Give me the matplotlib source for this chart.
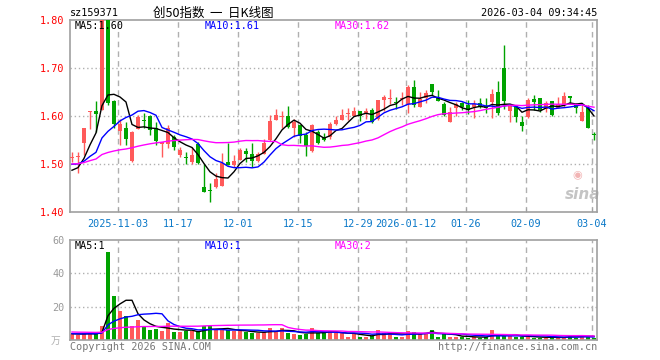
import matplotlib
matplotlib.use("Agg")  # headless rendering
import matplotlib.pyplot as plt
import numpy as np
import pandas as pd

W, H = 660, 360

# ------------------------------------------------------------------
# data (prices in CNY, volume in 万手)
# ------------------------------------------------------------------
date_idx = [8, 18, 28, 38, 48, 56, 66, 76, 87]
date_labels = ["2025-11-03", "11-17", "12-01", "12-15", "12-29",
               "2026-01-12", "01-26", "02-09", "03-04"]

opens = [1.513, 1.514, 1.543, 1.609, 1.611, 1.612, 1.805, 1.631, 1.569, 1.576,
         1.506, 1.573, 1.591, 1.599, 1.574, 1.542, 1.542, 1.556, 1.519, 1.515,
         1.505, 1.542, 1.453, 1.444, 1.453, 1.454, 1.505, 1.497, 1.508, 1.527,
         1.521, 1.507, 1.521, 1.549, 1.592, 1.597, 1.600, 1.576, 1.581, 1.560,
         1.528, 1.567, 1.557, 1.556, 1.583, 1.592, 1.604, 1.599, 1.611, 1.604,
         1.612, 1.593, 1.633, 1.635, 1.630, 1.636, 1.626, 1.661, 1.619, 1.637,
         1.667, 1.637, 1.625, 1.588, 1.617, 1.628, 1.623, 1.618, 1.628, 1.621,
         1.630, 1.649, 1.699, 1.611, 1.618, 1.588, 1.597, 1.635, 1.637, 1.614,
         1.631, 1.616, 1.626, 1.642, 1.622, 1.590, 1.617, 1.561]
highs = [1.524, 1.526, 1.576, 1.611, 1.631, 1.800, 1.830, 1.633, 1.593, 1.588,
         1.568, 1.603, 1.607, 1.603, 1.587, 1.545, 1.581, 1.560, 1.536, 1.526,
         1.536, 1.545, 1.500, 1.460, 1.482, 1.522, 1.543, 1.519, 1.533, 1.534,
         1.543, 1.524, 1.553, 1.603, 1.615, 1.611, 1.621, 1.593, 1.582, 1.567,
         1.583, 1.571, 1.564, 1.588, 1.599, 1.614, 1.616, 1.619, 1.611, 1.616,
         1.616, 1.633, 1.644, 1.656, 1.640, 1.651, 1.665, 1.676, 1.651, 1.654,
         1.667, 1.654, 1.630, 1.619, 1.630, 1.630, 1.633, 1.633, 1.637, 1.637,
         1.656, 1.673, 1.748, 1.626, 1.623, 1.599, 1.637, 1.644, 1.637, 1.631,
         1.631, 1.640, 1.651, 1.642, 1.628, 1.623, 1.623, 1.567]
lows = [1.505, 1.482, 1.519, 1.573, 1.567, 1.612, 1.623, 1.576, 1.540, 1.540,
        1.505, 1.572, 1.574, 1.560, 1.540, 1.515, 1.533, 1.530, 1.515, 1.500,
        1.501, 1.500, 1.442, 1.421, 1.451, 1.454, 1.497, 1.494, 1.508, 1.505,
        1.494, 1.505, 1.521, 1.547, 1.592, 1.574, 1.574, 1.557, 1.543, 1.517,
        1.526, 1.542, 1.547, 1.553, 1.581, 1.592, 1.592, 1.599, 1.590, 1.593,
        1.585, 1.592, 1.611, 1.626, 1.614, 1.623, 1.606, 1.619, 1.618, 1.628,
        1.644, 1.631, 1.599, 1.587, 1.599, 1.612, 1.604, 1.595, 1.616, 1.606,
        1.595, 1.602, 1.614, 1.588, 1.588, 1.569, 1.595, 1.612, 1.609, 1.609,
        1.601, 1.616, 1.619, 1.626, 1.606, 1.590, 1.574, 1.551]
closes = [1.515, 1.517, 1.576, 1.611, 1.604, 1.800, 1.628, 1.583, 1.583, 1.552,
          1.566, 1.597, 1.589, 1.571, 1.547, 1.545, 1.576, 1.535, 1.529, 1.513,
          1.519, 1.502, 1.442, 1.443, 1.468, 1.503, 1.498, 1.507, 1.529, 1.521,
          1.507, 1.521, 1.543, 1.590, 1.602, 1.599, 1.578, 1.588, 1.558, 1.537,
          1.581, 1.543, 1.550, 1.583, 1.592, 1.602, 1.606, 1.611, 1.599, 1.611,
          1.588, 1.633, 1.640, 1.637, 1.628, 1.638, 1.661, 1.623, 1.635, 1.647,
          1.649, 1.632, 1.603, 1.609, 1.624, 1.618, 1.613, 1.624, 1.621, 1.616,
          1.646, 1.607, 1.632, 1.623, 1.597, 1.580, 1.633, 1.630, 1.612, 1.628,
          1.602, 1.626, 1.642, 1.638, 1.617, 1.609, 1.576, 1.560]
volumes = [3.6, 2.8, 4.0, 4.4, 3.6, 8.2, 52.6, 26.2, 17.6, 14.6,
           8.2, 12.2, 7.6, 6.2, 6.8, 5.2, 10.0, 4.6, 4.6, 5.2,
           5.2, 5.2, 8.2, 8.2, 6.0, 6.0, 6.2, 5.2, 5.6, 4.6,
           4.0, 4.4, 4.6, 7.4, 5.2, 7.4, 4.0, 3.6, 2.8, 3.4,
           7.4, 4.2, 4.2, 5.2, 4.2, 4.6, 2.0, 4.0, 2.0, 2.0,
           2.4, 6.2, 4.0, 4.0, 2.0, 2.0, 5.6, 5.0, 3.4, 4.0,
           6.2, 2.0, 3.6, 2.0, 2.0, 2.0, 1.4, 2.0, 1.4, 2.0,
           6.2, 2.6, 2.6, 2.6, 2.0, 2.0, 2.0, 1.4, 1.4, 1.4,
           2.0, 1.4, 1.4, 3.2, 1.4, 3.2, 2.0, 1.0]

# sessions before the visible window (estimated from where the MA lines start)
prev_close = [1.50, 1.51, 1.49, 1.50, 1.52, 1.50, 1.49, 1.51, 1.50, 1.49,
              1.50, 1.51, 1.50, 1.49, 1.50, 1.51, 1.50, 1.50, 1.49, 1.50,
              1.51, 1.52, 1.51, 1.52, 1.50, 1.49, 1.48, 1.47, 1.48]
prev_vol = [5.6, 4.8, 6.2, 5.0, 5.4, 4.6, 5.8, 5.2, 4.9, 6.0,
            5.3, 4.7, 5.5, 5.1, 5.9, 4.8, 5.6, 5.0, 5.4, 4.8,
            4.2, 3.6, 3.9, 3.4, 4.0, 3.7, 4.1, 3.6, 4.0]

price_ticks = [1.40, 1.50, 1.60, 1.70, 1.80]
vol_ticks = [20, 40, 60]
ma_windows = [5, 10, 30]
ma_colours = ["black", "#0000ff", "#ff00ff"]
price_ma_text = ["MA5:1.60", "MA10:1.61", "MA30:1.62"]
vol_ma_text = ["MA5:1", "MA10:1", "MA30:2"]

RED = "#ff5a5a"
GREEN = "#00a300"
BORDER = "#a0a0a0"
GRID = "#b0b0b0"
DATE_BLUE = "#0a78c8"
MONO = "DejaVu Sans Mono"
CJK = ["Noto Sans CJK SC", "DejaVu Sans"]
FS = 7.3


def fx(x):
    return x / W


def fy(y):
    return 1 - y / H


n = len(closes)
x = np.arange(n)
o = np.array(opens)
c = np.array(closes)
up = c >= o
colours = np.where(up, RED, GREEN)

close_all = pd.Series(prev_close + closes)
vol_all = pd.Series(prev_vol + volumes)
price_ma = [close_all.rolling(w).mean().iloc[-n:].values for w in ma_windows]
vol_ma = [vol_all.rolling(w).mean().iloc[-n:].values for w in ma_windows]

fig = plt.figure(figsize=(W / 100, H / 100), dpi=100)
fig.patch.set_facecolor("white")

ax = fig.add_axes([fx(70), fy(212), (597 - 70) / W, (212 - 20) / H])
axv = fig.add_axes([fx(70), fy(340), (597 - 70) / W, (340 - 240) / H])

grid_x = [i - 0.33 for i in date_idx]

for a in (ax, axv):
    a.set_xlim(-0.33, n - 0.5)
    for s in a.spines.values():
        s.set_color(BORDER)
        s.set_linewidth(1.2)
    for gx in grid_x:
        a.axvline(gx, color=GRID, linewidth=1.0, linestyle=(0, (4, 3)), zorder=0)

# ---- price panel ----
for yv in price_ticks[1:-1]:
    ax.axhline(yv, color=GRID, linewidth=1.0, linestyle=(0, (1, 2)), zorder=0)

# sina watermark, behind the candles
ax.text(0.973, 0.09, "sina", transform=ax.transAxes, color="#c4c4c4",
        ha="center", va="center", fontsize=11, fontweight="bold",
        style="italic", family="DejaVu Sans", zorder=1)
ax.text(0.962, 0.19, "◉", transform=ax.transAxes, color="#f2b4b4",
        ha="center", va="center", fontsize=8, family="DejaVu Sans", zorder=1)

ax.vlines(x, lows, highs, colors=colours, linewidth=1.0, zorder=2)
body_lo = np.minimum(o, c)
body_h = np.maximum(np.abs(c - o), 0.0022)
ax.bar(x, body_h, bottom=body_lo, width=0.8, color=colours, linewidth=0, zorder=3)

for ma, col in zip(price_ma, ma_colours):
    ax.plot(x, ma, color=col, linewidth=1.0, zorder=4)

ax.set_ylim(1.40, 1.80)
ax.set_yticks(price_ticks)
ax.set_yticklabels([f"{v:.2f}" for v in price_ticks], color="red",
                   fontsize=FS, family=MONO)
ax.tick_params(axis="y", length=0, pad=4)
ax.set_xticks(grid_x)
ax.set_xticklabels(date_labels, color=DATE_BLUE, fontsize=FS, family=MONO)
ax.tick_params(axis="x", direction="in", length=3, color=BORDER, pad=5)

# ---- volume panel ----
for yv in vol_ticks[:-1]:
    axv.axhline(yv, color=GRID, linewidth=1.0, linestyle=(0, (1, 2)), zorder=0)
axv.bar(x, volumes, width=0.8, color=colours, linewidth=0, zorder=2)
for ma, col in zip(vol_ma, ma_colours):
    axv.plot(x, ma, color=col, linewidth=1.0, zorder=3)
axv.set_ylim(0, 60)
axv.set_yticks(vol_ticks)
axv.set_yticklabels([str(v) for v in vol_ticks], color="#999999",
                    fontsize=FS, family=MONO)
axv.tick_params(axis="y", length=0, pad=4)
axv.set_xticks([])

# ---- texts ----
fig.text(fx(70), fy(13), "sz159371", ha="left", va="center", fontsize=FS, family=MONO)
fig.text(fx(213), fy(13), "创50指数  一  日K线图", ha="center", va="center",
         fontsize=9, family=CJK)
fig.text(fx(597), fy(13), "2026-03-04 09:34:45", ha="right", va="center",
         fontsize=FS, family=MONO)

for txt, col, px in zip(price_ma_text, ma_colours, [75, 205, 335]):
    fig.text(fx(px), fy(26), txt, color=col, ha="left", va="center",
             fontsize=FS, family=MONO)
for txt, col, px in zip(vol_ma_text, ma_colours, [75, 205, 335]):
    fig.text(fx(px), fy(246), txt, color=col, ha="left", va="center",
             fontsize=FS, family=MONO)

fig.text(fx(70), fy(347), "Copyright 2026 SINA.COM", color="#777777",
         ha="left", va="center", fontsize=FS, family=MONO)
fig.text(fx(597), fy(347), "http://finance.sina.com.cn", color="#777777",
         ha="right", va="center", fontsize=FS, family=MONO)
fig.text(fx(56), fy(341), "万", color="#b0b0b0", ha="center", va="center",
         fontsize=7, family=CJK)

fig.savefig("out.png", dpi=100, facecolor="white")
plt.close(fig)
